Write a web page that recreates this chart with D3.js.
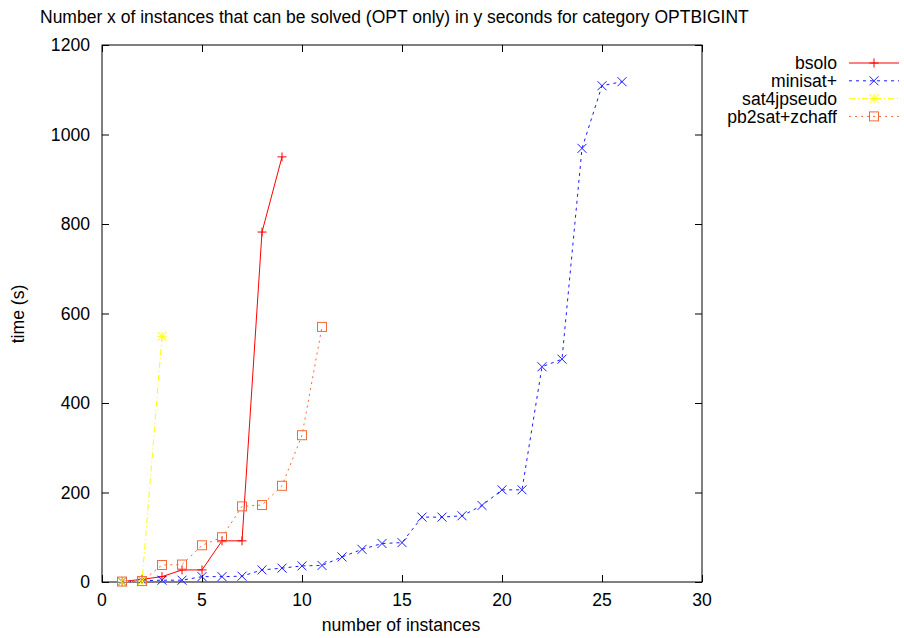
<!DOCTYPE html>
<html>
<head>
<meta charset="utf-8">
<script src="https://cdn.jsdelivr.net/npm/d3@7"></script>
<style>
  html, body { margin: 0; padding: 0; background: #fff; }
  svg { display: block; font-family: "Liberation Sans", Arial, Helvetica, sans-serif; }
</style>
</head>
<body>
<svg id="chart" width="904" height="638"></svg>
<script>
// Solved-instance counts (x) against cumulative time in seconds (y)
const titleText = "Number x of instances that can be solved (OPT only) in y seconds for category OPTBIGINT";
const xLabel = "number of instances";
const yLabel = "time (s)";
const xTicks = [0, 5, 10, 15, 20, 25, 30];
const yTicks = [0, 200, 400, 600, 800, 1000, 1200];

const seriesNames = ["bsolo", "minisat+", "sat4jpseudo", "pb2sat+zchaff"];
const bsoloTimes = [1, 6, 12, 27, 27, 92, 92, 782, 950];
const minisatTimes = [1, 3, 4, 4, 12, 12, 13, 27, 31, 36, 37, 56, 73, 86, 88, 145, 145, 148, 171, 206, 206, 481, 498, 969, 1109, 1118];
const sat4jTimes = [1, 2, 549];
const pb2satTimes = [1, 2, 38, 39, 82, 100, 169, 172, 215, 328, 570];

const seriesStyles = [
  { color: "#ff0000", dash: null, marker: "plus" },
  { color: "#1a1aff", dash: "3,4", marker: "cross" },
  { color: "#ffff00", dash: "6,3,1,3", marker: "star" },
  { color: "#f26a3a", dash: "2,4", marker: "square" }
];
const seriesData = [bsoloTimes, minisatTimes, sat4jTimes, pb2satTimes]
  .map(vals => vals.map((v, i) => [i + 1, v]));

const svg = d3.select("#chart");
const plotLeft = 102, plotRight = 702, plotTop = 45, plotBottom = 582;
const fontSize = 17.6;

const x = d3.scaleLinear().domain([0, 30]).range([plotLeft, plotRight]);
const y = d3.scaleLinear().domain([0, 1200]).range([plotBottom, plotTop]);

// Title
svg.append("text")
  .attr("x", 40).attr("y", 23)
  .attr("font-size", 17.5)
  .attr("fill", "#000")
  .text(titleText);

// Axes with inward ticks, mirrored on the opposite side
const tickLen = 7;
const axisB = d3.axisBottom(x).tickValues(xTicks).tickSize(-tickLen).tickFormat("");
const axisT = d3.axisTop(x).tickValues(xTicks).tickSize(-tickLen).tickFormat("");
const axisL = d3.axisLeft(y).tickValues(yTicks).tickSize(-tickLen).tickFormat("");
const axisR = d3.axisRight(y).tickValues(yTicks).tickSize(-tickLen).tickFormat("");

function styleAxis(g) {
  g.select(".domain").remove();
  g.selectAll(".tick line").attr("stroke", "#000");
}
svg.append("g").attr("transform", `translate(0,${plotBottom})`).call(axisB).call(styleAxis);
svg.append("g").attr("transform", `translate(0,${plotTop})`).call(axisT).call(styleAxis);
svg.append("g").attr("transform", `translate(${plotLeft},0)`).call(axisL).call(styleAxis);
svg.append("g").attr("transform", `translate(${plotRight},0)`).call(axisR).call(styleAxis);

// Tick labels
svg.append("g").selectAll("text").data(xTicks).join("text")
  .attr("x", d => x(d)).attr("y", 606)
  .attr("text-anchor", "middle").attr("font-size", fontSize)
  .text(d => d);
svg.append("g").selectAll("text").data(yTicks).join("text")
  .attr("x", 90).attr("y", d => y(d)).attr("dy", "0.36em")
  .attr("text-anchor", "end").attr("font-size", fontSize)
  .text(d => d);

// Frame
svg.append("rect")
  .attr("x", plotLeft).attr("y", plotTop)
  .attr("width", plotRight - plotLeft).attr("height", plotBottom - plotTop)
  .attr("fill", "none").attr("stroke", "#000").attr("stroke-width", 1);

// Axis labels
svg.append("text")
  .attr("x", 401).attr("y", 631)
  .attr("text-anchor", "middle").attr("font-size", fontSize)
  .text(xLabel);
svg.append("text")
  .attr("transform", `translate(24,314) rotate(-90)`)
  .attr("text-anchor", "middle").attr("font-size", fontSize)
  .text(yLabel);

// Marker drawing
function drawMarker(g, kind, cx, cy, color) {
  const s = 4.5;
  const m = g.append("g").attr("transform", `translate(${cx},${cy})`)
    .attr("stroke", color).attr("fill", "none").attr("stroke-width", 1);
  if (kind === "plus" || kind === "star") {
    m.append("line").attr("x1", -s).attr("x2", s).attr("y1", 0).attr("y2", 0);
    m.append("line").attr("x1", 0).attr("x2", 0).attr("y1", -s).attr("y2", s);
  }
  if (kind === "cross" || kind === "star") {
    m.append("line").attr("x1", -s).attr("x2", s).attr("y1", -s).attr("y2", s);
    m.append("line").attr("x1", -s).attr("x2", s).attr("y1", s).attr("y2", -s);
  }
  if (kind === "square") {
    m.append("rect").attr("x", -s).attr("y", -s).attr("width", 2 * s).attr("height", 2 * s);
  }
}

const line = d3.line().x(d => x(d[0])).y(d => y(d[1]));
const plot = svg.append("g");

seriesData.forEach((data, i) => {
  const st = seriesStyles[i];
  plot.append("path")
    .datum(data)
    .attr("d", line)
    .attr("fill", "none")
    .attr("stroke", st.color)
    .attr("stroke-width", 1)
    .attr("stroke-dasharray", st.dash);
  data.forEach(d => drawMarker(plot, st.marker, x(d[0]), y(d[1]), st.color));
});

// Legend
const legend = svg.append("g");
seriesNames.forEach((name, i) => {
  const st = seriesStyles[i];
  const ly = 63 + i * 17.8;
  legend.append("text")
    .attr("x", 837).attr("y", ly).attr("dy", "0.36em")
    .attr("text-anchor", "end").attr("font-size", fontSize)
    .text(name);
  legend.append("line")
    .attr("x1", 849).attr("x2", 899).attr("y1", ly).attr("y2", ly)
    .attr("stroke", st.color).attr("stroke-width", 1)
    .attr("stroke-dasharray", st.dash);
  drawMarker(legend, st.marker, 874, ly, st.color);
});
</script>
</body>
</html>
